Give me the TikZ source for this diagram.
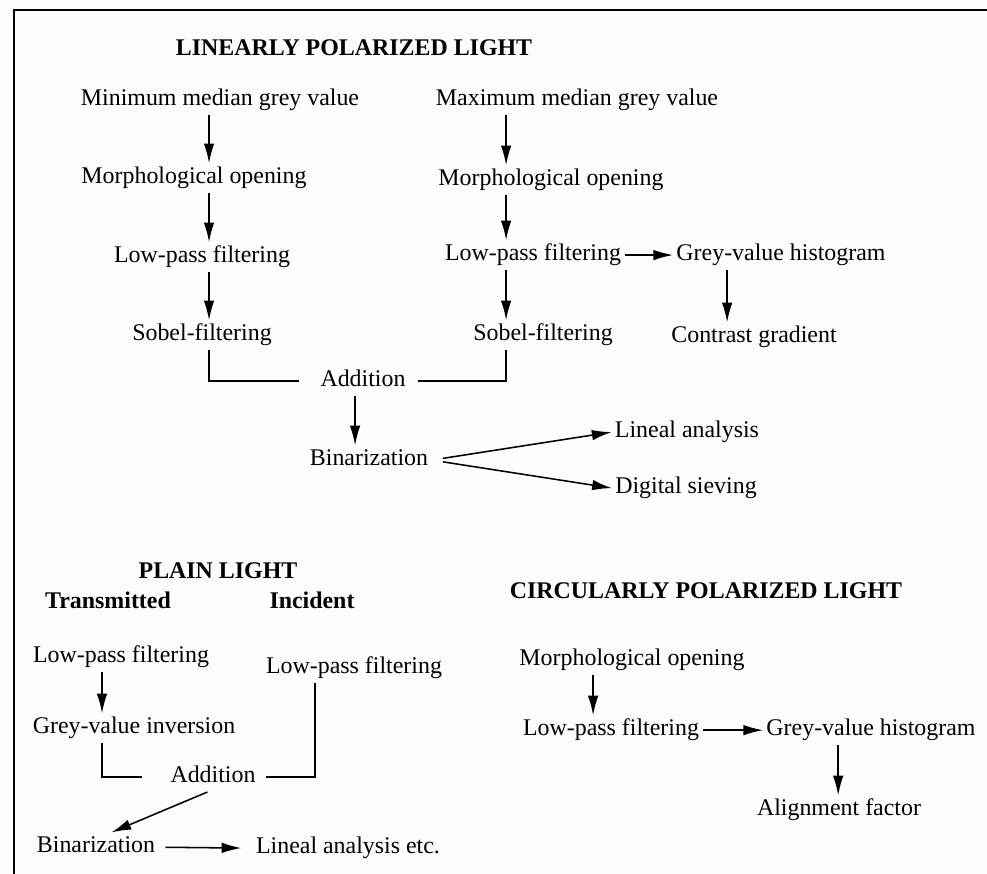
\documentclass[tikz,border=0pt]{standalone}
\usepackage{fontspec}
\setmainfont{Liberation Serif}
\usepackage{tikz}
\usetikzlibrary{arrows.meta}
\definecolor{paper}{RGB}{252,252,248}

\begin{document}
\begin{tikzpicture}
[scale=2.5,>={Latex[length=14pt,width=7.5pt]},line width=1.1pt,
txt/.style={font=\fontsize{17}{20}\selectfont,inner sep=2pt,text height=12pt,text depth=4pt},
hd/.style={txt,font=\fontsize{17}{20}\selectfont\bfseries},]

\fill[paper] (0,0) rectangle (9.87,-8.74);
\useasboundingbox (0,0) rectangle (9.87,-8.74);
\draw[line width=1.4pt] (0.14,-8.74) -- (0.14,-0.10) -- (9.87,-0.10);

% linearly polarized light
\node (linH) at (3.54,-0.50)[hd]{LINEARLY POLARIZED LIGHT};
\node (minL) at (2.20,-1.00)[txt]{Minimum median grey value};
\node (morL) at (1.94,-1.78)[txt]{Morphological opening};
\node (lowL) at (2.02,-2.57)[txt]{Low-pass filtering};
\node (sobL) at (2.02,-3.35)[txt]{Sobel-filtering};
\node (maxR) at (5.77,-1.00)[txt]{Maximum median grey value};
\node (morR) at (5.51,-1.80)[txt]{Morphological opening};
\node (lowR) at (5.33,-2.55)[txt]{Low-pass filtering};
\node (sobR) at (5.43,-3.35)[txt]{Sobel-filtering};
\node (greyT) at (7.81,-2.55)[txt]{Grey-value histogram};
\node (conT) at (7.54,-3.37)[txt]{Contrast gradient};
\node (addT) at (3.63,-3.81)[txt]{Addition};
\node (binT) at (3.69,-4.60)[txt]{Binarization};
\node (linT) at (6.87,-4.32)[txt]{Lineal analysis};
\node (digT) at (6.86,-4.88)[txt]{Digital sieving};

\coordinate (colA) at (2.09,0);
\coordinate (colB) at (5.06,0);
\coordinate (colC) at (3.55,0);
\coordinate (colD) at (7.27,0);

\draw[->] (minL.south -| colA) -- (morL.north -| colA);
\draw[->] (morL.south -| colA) -- (lowL.north -| colA);
\draw[->] (lowL.south -| colA) -- (sobL.north -| colA);
\draw[->] (maxR.south -| colB) -- (morR.north -| colB);
\draw[->] (morR.south -| colB) -- (lowR.north -| colB);
\draw[->] (lowR.south -| colB) -- (sobR.north -| colB);
\draw[->] (lowR.east) -- (greyT.west);
\draw[->] (greyT.south -| colD) -- (conT.north -| colD);
\draw (sobL.south -| colA) |- ([xshift=-5.2pt]addT.west);
\draw (sobR.south -| colB) |- ([xshift=2.4pt]addT.east);
\draw[->] (addT.south -| colC) -- (binT.north -| colC);
\draw[->,shorten <=8pt] (binT.east) -- (linT.west);
\draw[->,shorten <=8pt] (binT.east) -- (digT.west);

% plain light
\node (plH) at (2.18,-5.73)[hd]{PLAIN LIGHT};
\node (trH) at (1.08,-6.03)[hd]{Transmitted};
\node (inH) at (3.12,-6.03)[hd]{Incident};
\node (lowP) at (1.21,-6.57)[txt]{Low-pass filtering};
\node (lowI) at (3.54,-6.68)[txt]{Low-pass filtering};
\node (invP) at (1.34,-7.28)[txt]{Grey-value inversion};
\node (addP) at (2.13,-7.77)[txt]{Addition};
\node (binP) at (0.96,-8.47)[txt]{Binarization};
\node (linP) at (3.48,-8.48)[txt]{Lineal analysis etc.};

\coordinate (colE) at (1.02,0);
\coordinate (colF) at (3.15,0);

\draw[->] (lowP.south -| colE) -- (invP.north -| colE);
\draw (invP.south -| colE) |- ([xshift=-7.2pt]addP.west);
\draw (lowI.south -| colF) |- ([xshift=2pt]addP.east);
\draw[->] ([xshift=-1.6pt]addP.south) -- ([xshift=4.4pt]binP.north);
\draw[->,shorten <=5pt,shorten >=8pt] (binP.east) -- (linP.west);

% circularly polarized light
\node (ciH) at (7.06,-5.93)[hd]{CIRCULARLY POLARIZED LIGHT};
\node (morC) at (6.32,-6.60)[txt]{Morphological opening};
\node (lowC) at (6.11,-7.30)[txt]{Low-pass filtering};
\node (greyC) at (8.71,-7.30)[txt]{Grey-value histogram};
\node (aliC) at (8.39,-8.10)[txt]{Alignment factor};

\coordinate (colG) at (5.93,0);
\coordinate (colH) at (8.38,0);

\draw[->] (morC.south -| colG) -- (lowC.north -| colG);
\draw[->] (lowC.east) -- (greyC.west);
\draw[->] (greyC.south -| colH) -- (aliC.north -| colH);

\end{tikzpicture}
\end{document}
